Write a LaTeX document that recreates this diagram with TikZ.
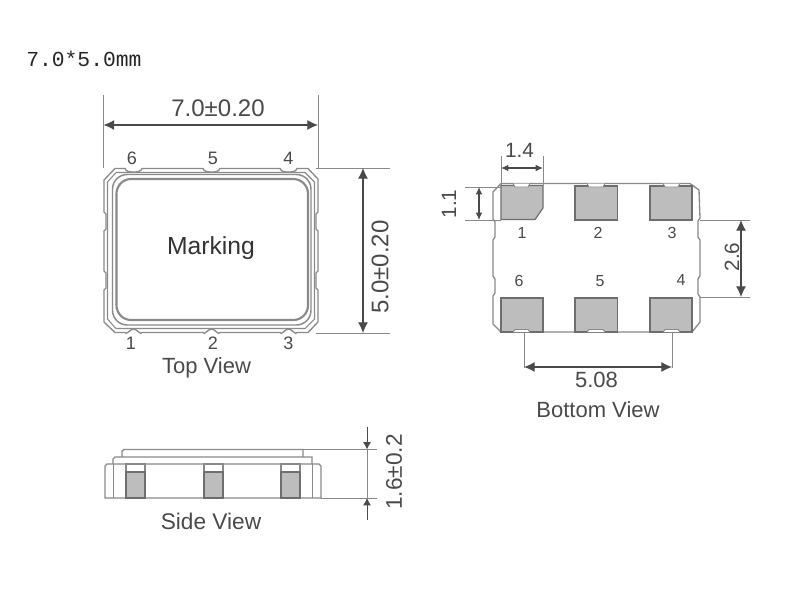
\documentclass[tikz,border=0pt]{standalone}
\usepackage{fontspec}
\setmainfont{Liberation Sans}
\newfontfamily\titlefont{Liberation Mono}
\usetikzlibrary{arrows.meta}
\definecolor{partline}{HTML}{8A8A8A}
\definecolor{padfill}{HTML}{BDBDBD}
\definecolor{labeltext}{HTML}{4A4A4A}
\begin{document}
\begin{tikzpicture}[x=0.75pt,y=-0.75pt,
  part/.style={draw=partline, line width=1pt},
  ring/.style={draw=partline, line width=1.1pt, rounded corners=11pt},
  pad/.style={draw=partline!80!black, fill=padfill, line width=0.9pt},
  notch/.style={draw=partline, fill=white, line width=0.7pt},
  extline/.style={draw=partline, line width=0.7pt},
  dimline/.style={draw=partline!80!black, line width=0.8pt, {Latex[length=8pt,width=7.5pt]}-{Latex[length=8pt,width=7.5pt]}, color=labeltext},
  smalldim/.style={{Latex[length=5.5pt,width=5pt]}-{Latex[length=5.5pt,width=5pt]}},
  dimlabel/.style={text=labeltext, font=\fontsize{18}{20}\selectfont, inner sep=0pt},
  pinlabel/.style={text=labeltext, font=\fontsize{13.5}{16}\selectfont, inner sep=0pt},
  smalllabel/.style={text=labeltext, font=\fontsize{12}{14}\selectfont, inner sep=0pt},
  viewlabel/.style={text=labeltext, font=\fontsize{16.5}{20}\selectfont, inner sep=0pt}]
\useasboundingbox (0,0) rectangle (800,600);
\fill[white] (0,0) rectangle (800,600);
\node[inner sep=0pt, anchor=west, text=black!85, font=\fontsize{16}{18}\selectfont\titlefont](title) at (26,59){7.0*5.0mm};

% top view
\draw[part] (104,180)--(115,168.5)--(125,168.5) to[out=-70,in=180] (133.5,172) to[out=0,in=-110] (142,168.5)
  --(203,168.5) to[out=-70,in=180] (211.5,172) to[out=0,in=-110] (220,168.5)
  --(280,168.5) to[out=-70,in=180] (288.5,172) to[out=0,in=-110] (297,168.5)
  --(308,168.5)--(318,179)--(318,212)--(316,214)--(316,229)--(318,231)--(318,271)--(316,273)--(316,288)--(318,290)
  --(318,322)--(308,332.5)--(297,332.5) to[out=-110,in=0] (288.5,329) to[out=180,in=-70] (280,332.5)
  --(220,332.5) to[out=-110,in=0] (211.5,329) to[out=180,in=-70] (203,332.5)
  --(142,332.5) to[out=-110,in=0] (133.5,329) to[out=180,in=-70] (125,332.5)
  --(115,332.5)--(104,322)--(104,290)--(106,288)--(106,273)--(104,271)--(104,231)--(106,229)--(106,214)--(104,212)--cycle;
\draw[part, line width=0.8pt] (107.5,182)--(116,172.5)--(305,172.5)--(314.5,182)--(314.5,319)--(305,328.5)--(116,328.5)--(107.5,319)--cycle;
\draw[ring] (112.5,174.5) rectangle (311,325);
\draw[ring, line width=1.6pt] (116.5,179) rectangle (308,320);
\node[inner sep=0pt, text=black!80, font=\fontsize{18.5}{22}\selectfont](marking) at (211,248){Marking};
\node[pinlabel](top6) at (132,158){6};
\node[pinlabel](top5) at (213,158){5};
\node[pinlabel](top4) at (288.5,158){4};
\node[pinlabel](top1) at (131,343){1};
\node[pinlabel](top2) at (213,343){2};
\node[pinlabel](top3) at (288.5,343){3};
\node[viewlabel](topview) at (206.5,368){Top View};

\coordinate (wa) at (103.5,95);
\coordinate (wb) at (103.5,168);
\coordinate (wc) at (318,95);
\coordinate (wd) at (318,168);
\draw[extline](wa)--(wb);
\draw[extline](wc)--(wd);
\coordinate (wl) at (103.5,125);
\coordinate (wr) at (318,125);
\draw[dimline](wl)--(wr);
\node[dimlabel](width) at (218,108){7.0±0.20};

\coordinate (ha) at (316,168);
\coordinate (hb) at (390,168);
\coordinate (hc) at (316,333);
\coordinate (hd) at (390,333);
\draw[extline](ha)--(hb);
\draw[extline](hc)--(hd);
\coordinate (ht) at (363,168);
\coordinate (hl) at (363,333);
\draw[dimline](ht)--(hl);
\node[dimlabel, rotate=90](height) at (380,267){5.0±0.20};

% bottom view
\draw[part] (501,183.5)--(690,183.5)--(699,190)--(700,218)--(698,221)--(698,237)--(700,240)--(700,276)--(698,279)--(698,294)--(700,297)--(700,322)
  --(692,332)--(501,332)--(493,324)--(493,296)--(495,293)--(495,279)--(493,276)--(493,240)--(495,237)--(495,222)--(493,219)--(493,192)--cycle;
\draw[pad] (501,185.5)--(543,185.5)--(543,208)--(535,219.5)--(501,219.5)--cycle;
\draw[pad] (575,186)rectangle(617.5,220);
\draw[pad] (650,186)rectangle(692,220);
\draw[pad] (501,298)rectangle(543,332);
\draw[pad] (575,298)rectangle(617.5,332);
\draw[pad] (650,298)rectangle(692,332);
\draw[notch] (513,183.5)--(515,187)--(528,187)--(530,183.5);
\draw[notch] (587,183.5)--(589,187)--(603,187)--(605,183.5);
\draw[notch] (663,183.5)--(665,187)--(678,187)--(680,183.5);
\draw[notch] (513,332)--(515,329.5)--(528,329.5)--(530,332);
\draw[notch] (587,332)--(589,329.5)--(603,329.5)--(605,332);
\draw[notch] (663,332)--(665,329.5)--(678,329.5)--(680,332);
\node[smalllabel](bot1) at (522,233){1};
\node[smalllabel](bot2) at (598,233){2};
\node[smalllabel](bot3) at (672,233){3};
\node[smalllabel](bot6) at (519,281){6};
\node[smalllabel](bot5) at (600,281){5};
\node[smalllabel](bot4) at (681,280){4};
\node[viewlabel](bottomview) at (598,410){Bottom View};

\coordinate (pa) at (501,156);
\coordinate (pb) at (501,185);
\coordinate (pc) at (543,156);
\coordinate (pd) at (543,185);
\draw[extline](pa)--(pb);
\draw[extline](pc)--(pd);
\coordinate (pl) at (501,168);
\coordinate (pr) at (543,168);
\draw[dimline, smalldim](pl)--(pr);
\node[dimlabel, font=\fontsize{15.5}{18}\selectfont](padw) at (519.5,150){1.4};

\coordinate (qa) at (465,187);
\coordinate (qb) at (501,187);
\coordinate (qc) at (465,220);
\coordinate (qd) at (501,220);
\draw[extline](qa)--(qb);
\draw[extline](qc)--(qd);
\coordinate (qt) at (479,187);
\coordinate (ql) at (479,220);
\draw[dimline, smalldim](qt)--(ql);
\node[dimlabel, font=\fontsize{15.5}{18}\selectfont, rotate=90](padh) at (449,204){1.1};

\coordinate (ra) at (700,220);
\coordinate (rb) at (750,220);
\coordinate (rc) at (700,297);
\coordinate (rd) at (750,297);
\draw[extline](ra)--(rb);
\draw[extline](rc)--(rd);
\coordinate (rt) at (741,220);
\coordinate (rl) at (741,297);
\draw[dimline](rt)--(rl);
\node[dimlabel, font=\fontsize{15.5}{18}\selectfont, rotate=90](rowgap) at (732,257){2.6};

\coordinate (sa) at (524,332);
\coordinate (sb) at (524,368);
\coordinate (sc) at (672,332);
\coordinate (sd) at (672,368);
\draw[extline](sa)--(sb);
\draw[extline](sc)--(sd);
\coordinate (sl) at (524,367);
\coordinate (sr) at (672,367);
\draw[dimline](sl)--(sr);
\node[dimlabel, font=\fontsize{16.5}{20}\selectfont](pitch) at (596.5,380){5.08};

% side view
\draw[part] (122,457)--(122,451)--(124,449.5)--(303,449.5)--(303,457);
\draw[part] (113,464)--(113,459)--(115,457)--(312,457)--(312,464);
\draw[part] (105,498)--(105,466)--(107,464)--(319,464)--(321,466)--(321,498)--cycle;
\draw[part, line width=0.7pt] (113,464)--(113,498);
\draw[part, line width=0.7pt] (312,464)--(312,498);
\draw[pad, fill=white, draw=partline] (126,464)rectangle(145,472);
\draw[pad, fill=white, draw=partline] (204,464)rectangle(223,472);
\draw[pad, fill=white, draw=partline] (281,464)rectangle(300,472);
\draw[pad] (126,472)rectangle(145,498);
\draw[pad] (204,472)rectangle(223,498);
\draw[pad] (281,472)rectangle(300,498);
\node[viewlabel, font=\fontsize{17}{20}\selectfont](sideview) at (211,521){Side View};

\coordinate (ta) at (303,449.5);
\coordinate (tb) at (377,449.5);
\coordinate (tc) at (321,498);
\coordinate (td) at (377,498);
\draw[extline](ta)--(tb);
\draw[extline](tc)--(td);
\coordinate (tt) at (367,427);
\coordinate (tm) at (367,449.5);
\coordinate (tn) at (367,498);
\coordinate (tl) at (367,520);
\draw[extline, -{Latex[length=5.5pt,width=6pt]}, color=labeltext](tt)--(tm);
\draw[extline, -{Latex[length=5.5pt,width=6pt]}, color=labeltext](tl)--(tn);
\draw[extline](tm)--(tn);
\node[dimlabel, font=\fontsize{17}{20}\selectfont, rotate=90](thick) at (394,472){1.6±0.2};
\end{tikzpicture}
\end{document}
